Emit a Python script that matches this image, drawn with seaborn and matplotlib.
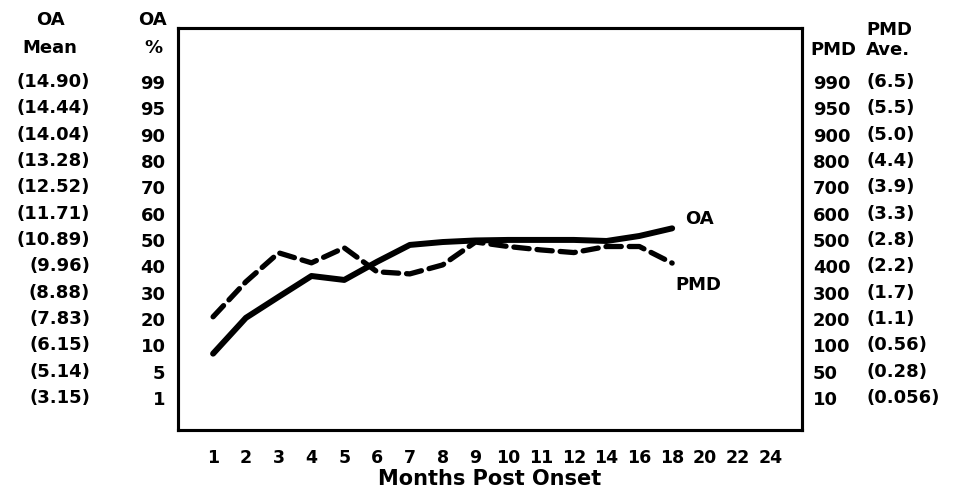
import numpy as np
import pandas as pd
import matplotlib
matplotlib.use("Agg")
import matplotlib.pyplot as plt
import seaborn as sns

# ---------------- data ----------------
month_ticks = [1, 2, 3, 4, 5, 6, 7, 8, 9, 10, 11, 12, 14, 16, 18, 20, 22, 24]
months = [1, 2, 3, 4, 5, 6, 7, 8, 9, 10, 11, 12, 14, 16, 18]
oa_pct = [8.4, 20.4, 28.4, 36.3, 34.8, 41.7, 48.1, 49.2, 49.8, 50.0, 50.0, 50.0, 49.6, 51.5, 54.4]
pmd_val = [208, 341, 451, 413, 470, 379, 371, 405, 492, 475, 462, 452, 475, 475, 412]

oa_pct_ticks = [1, 5, 10, 20, 30, 40, 50, 60, 70, 80, 90, 95, 99]
oa_mean_labels = ["(3.15)", "(5.14)", "(6.15)", "(7.83)", "(8.88)", "(9.96)", "(10.89)",
                  "(11.71)", "(12.52)", "(13.28)", "(14.04)", "(14.44)", "(14.90)"]
pmd_ticks = [10, 50, 100, 200, 300, 400, 500, 600, 700, 800, 900, 950, 990]
pmd_ave_labels = ["(0.056)", "(0.28)", "(0.56)", "(1.1)", "(1.7)", "(2.2)", "(2.8)",
                  "(3.3)", "(3.9)", "(4.4)", "(5.0)", "(5.5)", "(6.5)"]

# ---------------- styling ----------------
sns.set_style("white")
plt.rcParams["font.family"] = ["DejaVu Sans"]
plt.rcParams["font.weight"] = "bold"
for k in ("text.color", "axes.labelcolor", "xtick.color", "ytick.color"):
    plt.rcParams[k] = "black"
FS = 13


def make_scale(ticks):
    t = np.asarray(ticks, float)
    r = np.arange(len(t), dtype=float)

    def fwd(v):
        v = np.asarray(v, float)
        out = np.interp(v, t, r)
        out = np.where(v < t[0], (v - t[0]) / (t[1] - t[0]), out)
        out = np.where(v > t[-1], r[-1] + (v - t[-1]) / (t[-1] - t[-2]), out)
        return out

    def inv(y):
        y = np.asarray(y, float)
        out = np.interp(y, r, t)
        out = np.where(y < 0, t[0] + y * (t[1] - t[0]), out)
        out = np.where(y > r[-1], t[-1] + (y - r[-1]) * (t[-1] - t[-2]), out)
        return out

    return fwd, inv


oa_fwd, oa_inv = make_scale(oa_pct_ticks)
pmd_fwd, pmd_inv = make_scale(pmd_ticks)

row_lo, row_hi = -1.22, 14.05

df = pd.DataFrame({
    "pos": [month_ticks.index(m) for m in months],
    "OA": oa_pct,
    "PMD": pmd_val,
})

fig = plt.figure(figsize=(9.76, 4.94), dpi=100)
ax = fig.add_axes([178 / 976, 1 - 430 / 494, 624 / 976, 402 / 494])
ax.set_yscale("function", functions=(oa_fwd, oa_inv))
ax2 = ax.twinx()
ax2.set_yscale("function", functions=(pmd_fwd, pmd_inv))

sns.lineplot(data=df, x="pos", y="OA", ax=ax, color="black", lw=4.3,
             solid_capstyle="round", legend=False)
sns.lineplot(data=df, x="pos", y="PMD", ax=ax2, color="black", lw=3.8,
             dashes=False, legend=False)
ax2.lines[0].set_linestyle((0, (2.9, 1.5)))
ax2.lines[0].set_dash_capstyle("round")

ax.set_xlim(-1.07, 17.96)
ax.set_ylim(float(oa_inv(row_lo)), float(oa_inv(row_hi)))
ax2.set_ylim(float(pmd_inv(row_lo)), float(pmd_inv(row_hi)))

ax.set_xticks(range(len(month_ticks)))
ax.set_xticklabels([str(m) for m in month_ticks], fontsize=12.5, fontweight="bold")
ax.set_yticks(oa_pct_ticks)
ax.set_yticklabels([str(v) for v in oa_pct_ticks], fontsize=FS, fontweight="bold")
ax.yaxis.set_minor_locator(matplotlib.ticker.NullLocator())
ax2.set_yticks(pmd_ticks)
ax2.set_yticklabels([str(v) for v in pmd_ticks], fontsize=FS, fontweight="bold",
                    ha="left")
ax2.yaxis.set_minor_locator(matplotlib.ticker.NullLocator())
ax.tick_params(axis="x", length=0, pad=14)
ax.tick_params(axis="y", length=0, pad=9)
ax2.tick_params(axis="y", length=0, pad=8)
ax.set_xlabel("Months Post Onset", fontsize=15, fontweight="bold", labelpad=1)
ax.set_ylabel("")
ax2.set_ylabel("")

for a in (ax, ax2):
    for s in a.spines.values():
        s.set_linewidth(2.2)
        s.set_color("black")

# outer columns: OA Mean (left) and PMD Ave. (right)
ytr = ax.get_yaxis_transform()
for v, lab in zip(oa_pct_ticks, oa_mean_labels):
    ax.text(-0.141, v, lab, transform=ytr, ha="right", va="center",
            fontsize=FS, fontweight="bold")
ytr2 = ax2.get_yaxis_transform()
for v, lab in zip(pmd_ticks, pmd_ave_labels):
    ax2.text(1.103, v, lab, transform=ytr2, ha="left", va="center",
             fontsize=FS, fontweight="bold")

# headers
def header(x, y, s, ha="center"):
    fig.text(x / 976, 1 - y / 494, s, ha=ha, va="center",
             fontsize=FS, fontweight="bold")

header(50, 20, "OA")
header(50, 48, "Mean")
header(152, 20, "OA")
header(153, 48, "%")
header(810, 50, "PMD", ha="left")
header(866, 30, "PMD", ha="left")
header(866, 50, "Ave.", ha="left")

# line labels
ax.annotate("OA", xy=(df["pos"].iloc[-1], oa_pct[-1]), xytext=(9, 7),
            textcoords="offset points", ha="left", va="center",
            fontsize=FS, fontweight="bold")
ax2.annotate("PMD", xy=(df["pos"].iloc[-1], pmd_val[-1]), xytext=(2, -16),
             textcoords="offset points", ha="left", va="center",
             fontsize=FS, fontweight="bold")

fig.savefig("out.png", dpi=100)
